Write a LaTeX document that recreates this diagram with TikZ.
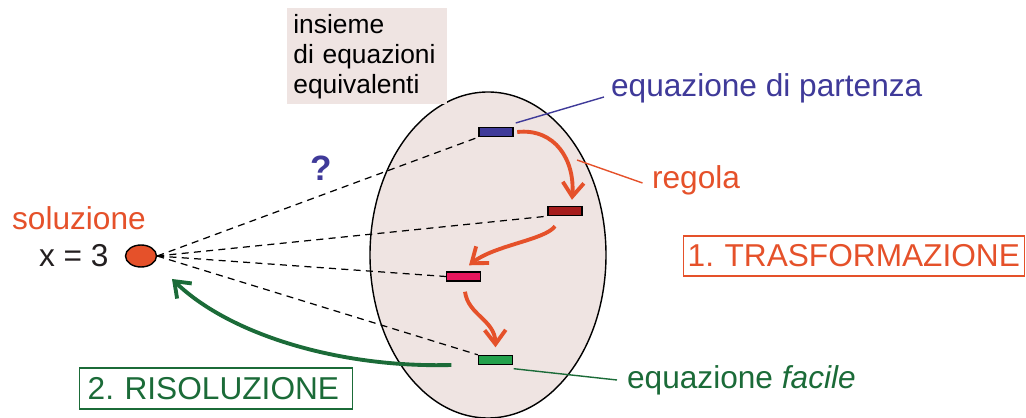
\documentclass[tikz,border=0pt]{standalone}
\usepackage{fontspec}
\setmainfont{Liberation Sans}
\usetikzlibrary{arrows.meta,shapes.geometric}
\definecolor{rosa}{HTML}{EFE4E2}
\definecolor{blu}{HTML}{3F3A99}
\definecolor{rossoscuro}{HTML}{A51C1C}
\definecolor{rosso}{HTML}{E8175D}
\definecolor{verde}{HTML}{22A04B}
\definecolor{arancio}{HTML}{E5512A}
\definecolor{verdescuro}{HTML}{1B6B38}
\definecolor{nero}{HTML}{231F20}

\begin{document}
\frenchspacing
\begin{tikzpicture}[
  barra/.style={draw=black, line width=0.8pt, minimum width=0.68cm, minimum height=0.18cm, inner sep=0pt},
  testo/.style={font=\fontsize{18}{21}\selectfont, inner sep=1pt, anchor=west},
  freccia/.style={line width=2.2pt, -{Straight Barb[length=8pt,width=12pt]}},
  tratteggio/.style={line width=0.7pt, dash pattern=on 4pt off 3pt}
]
\useasboundingbox (0,0) rectangle (20.52,8.34);

\draw[fill=rosa, line width=0.8pt] (9.76,3.24) ellipse [x radius=2.36, y radius=3.26];

\node[fill=rosa, anchor=north west, align=left, text width=2.96cm, inner xsep=0.12cm, minimum height=1.9cm, font=\fontsize{15}{17}\selectfont] (ins) at (5.74,8.18) {insieme\\di equazioni\\equivalenti};

\node[barra, fill=blu] (b1) at (9.92,5.70) {};
\node[barra, fill=rossoscuro] (b2) at (11.30,4.12) {};
\node[barra, fill=rosso] (b3) at (9.27,2.81) {};
\node[barra, fill=verde] (b4) at (9.91,1.14) {};

\node[ellipse, draw=black, line width=0.8pt, fill=arancio, minimum width=0.62cm, minimum height=0.44cm, inner sep=0pt] (sol) at (2.82,3.22) {};
\node[testo, text=arancio] (soltxt) at (0.2,3.98) {soluzione};
\node[testo, text=nero] (x) at (0.74,3.22) {x = 3};
\node[font=\fontsize{20}{24}\selectfont\bfseries, text=blu] (dom) at (6.42,4.98) {?};

\draw[tratteggio] (sol.east) -- (b1.south west);
\draw[tratteggio] (sol.east) -- (b2.south west);
\draw[tratteggio] (sol.east) -- (b3.west);
\draw[tratteggio] (sol.east) -- (b4.north west);

\draw[freccia, arancio] ([xshift=2pt]b1.east) .. controls (11.1,5.78) and (11.5,5.14) .. ([shift={(0.14,0.12)}]b2.north);
\draw[freccia, arancio] ([shift={(-0.2,-0.2)}]b2.south) .. controls (10.9,3.54) and (9.9,3.44) .. ([shift={(0.11,0.12)}]b3.north);
\draw[freccia, arancio] ([shift={(0.03,-0.2)}]b3.south) .. controls (9.36,2.04) and (9.9,1.94) .. ([yshift=0.15cm]b4.north);
\draw[freccia, verdescuro] ([shift={(-0.53,-0.1)}]b4.west) .. controls (6.8,0.98) and (4.6,1.64) .. ([shift={(0.62,-0.46)}]sol.center);

\node[testo, text=blu] (part) at (12.18,6.58) {equazione di partenza};
\draw[blu, line width=0.8pt] ([shift={(0.04,0.18)}]b1.east) -- ([shift={(-0.1,-0.18)}]part.west);

\coordinate (r) at (11.54,5.14);
\node[testo, text=arancio] (reg) at (13.0,4.74) {regola};
\draw[arancio, line width=0.8pt] (r) -- ([shift={(-0.15,-0.06)}]reg.west);

\node[testo, text=verdescuro] (fac) at (12.5,0.74) {equazione \textit{facile}};
\draw[verdescuro, line width=0.8pt] ([shift={(0.01,-0.07)}]b4.south east) -- ([xshift=-0.16cm]fac.west);

\node[testo, draw=arancio, text=arancio, line width=0.8pt, inner xsep=0.08cm, text width=6.66cm, align=left, minimum height=0.8cm] (trasf) at (13.66,3.22) {1. TRASFORMAZIONE};
\node[testo, draw=verdescuro, text=verdescuro, line width=0.8pt, inner xsep=0.16cm, text width=5.14cm, align=left, minimum height=0.82cm] (ris) at (1.58,0.57) {2. RISOLUZIONE};
\end{tikzpicture}
\end{document}
